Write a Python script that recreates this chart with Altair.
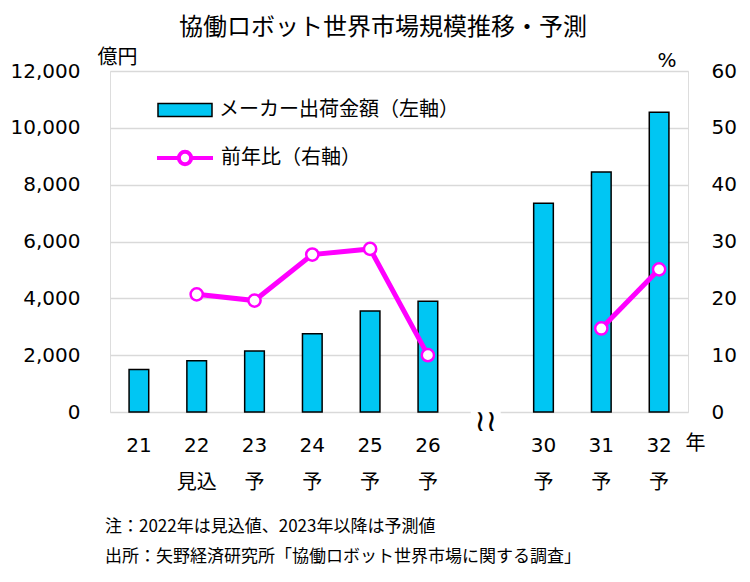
import altair as alt
import pandas as pd

# ---- data ----
categories = ["21", "22|見込", "23|予", "24|予", "25|予", "26|予", "gap", "30|予", "31|予", "32|予"]
shipments = [1500, 1800, 2150, 2750, 3550, 3900, None, 7350, 8450, 10550]   # 億円
yoy = [None, 20.7, 19.6, 27.7, 28.7, 10.0, None, None, 14.7, 25.1]          # %
segments = [None, "a", "a", "a", "a", "a", None, None, "b", "b"]
left_ticks = [0, 2000, 4000, 6000, 8000, 10000, 12000]
right_ticks = [0, 10, 20, 30, 40, 50, 60]

title_text = "協働ロボット世界市場規模推移・予測"
bar_name = "メーカー出荷金額（左軸）"
line_name = "前年比（右軸）"
notes = ["注：2022年は見込値、2023年以降は予測値",
         "出所：矢野経済研究所「協働ロボット世界市場に関する調査」"]
break_mark = ["≀≀"]

CYAN = "#00C6F3"
MAGENTA = "#FF00FF"
NUM_FONT = "DejaVu Sans, Noto Sans CJK JP"
CJK = "Noto Sans CJK JP"

df = pd.DataFrame({"cat": categories, "sales": shipments, "yoy": yoy, "seg": segments})
df["bar_series"] = bar_name
df["line_series"] = line_name
df_break = pd.DataFrame({"cat": ["gap"], "sym": break_mark})
df_notes = pd.DataFrame({"note": ["\n".join(notes)]})

x_enc = alt.X(
    "cat:N",
    sort=categories,
    scale=alt.Scale(domain=categories, paddingInner=0.66, paddingOuter=0.33),
    axis=alt.Axis(
        title="年", labelExpr="datum.label == 'gap' ? '' : split(datum.label, '|')",
        labelAngle=0, labelFont=NUM_FONT, labelFontSize=20, labelColor="black",
        labelLineHeight=37, labelPadding=23, labelBaseline="top",
        labelOverlap=False, labelBound=False,
        domain=False, ticks=False,
        titleX=575, titleY=31, titleAlign="left", titleBaseline="middle", titleAngle=0,
        titleFont=CJK, titleFontSize=20, titleFontWeight="normal", titleColor="black",
    ),
)

bars = alt.Chart(df).transform_filter("isValid(datum.sales)").mark_bar(
    stroke="black", strokeWidth=1.5
).encode(
    x=x_enc,
    y=alt.Y("sales:Q", scale=alt.Scale(domain=[0, 12000], nice=False),
            axis=alt.Axis(orient="left", values=left_ticks, format=",.0f",
                          grid=True, gridColor="#D9D9D9", gridWidth=1.5,
                          domain=False, ticks=False, labelPadding=30,
                          labelFont=NUM_FONT, labelFontSize=20, labelColor="black",
                          title="億円", titleAngle=0, titleX=-13, titleY=-14,
                          titleAlign="left", titleBaseline="middle",
                          titleFont=CJK, titleFontSize=20, titleFontWeight="normal",
                          titleColor="black")),
    color=alt.Color("bar_series:N", scale=alt.Scale(range=[CYAN]),
                    legend=alt.Legend(title=None, orient="none", legendX=47, legendY=11,
                                      symbolType="M-1,-0.24H1V0.24H-1Z", symbolSize=2916,
                                      symbolStrokeColor="black", symbolStrokeWidth=1.5,
                                      labelFont=CJK, labelFontSize=20, labelColor="black",
                                      labelOffset=6, labelLimit=400, padding=0)),
)

break_rect = alt.Chart(df_break).mark_bar(color="white", size=30).encode(
    x=alt.X("cat:N", sort=categories),
    y=alt.value(336), y2=alt.value(346),
)
break_text = alt.Chart(df_break).mark_text(
    font="DejaVu Sans", fontSize=30, color="black", baseline="middle", dy=5
).encode(x=alt.X("cat:N", sort=categories), y=alt.value(346), text="sym:N")

right_axis = alt.Axis(orient="right", values=right_ticks, grid=False, domain=False, ticks=False,
                      labelPadding=23, labelFont=NUM_FONT, labelFontSize=20, labelColor="black",
                      title="%", titleAngle=0, titleX=-31, titleY=-11, titleAlign="left",
                      titleBaseline="middle", titleFont=NUM_FONT, titleFontSize=20,
                      titleFontWeight="normal", titleColor="black")
y_right = alt.Y("yoy:Q", scale=alt.Scale(domain=[0, 60], nice=False), axis=right_axis)

line_path = ("M-1,0H-0.22M0.22,0H1M-0.22,0A0.22,0.22 0 1,1 0.22,0"
             "A0.22,0.22 0 1,1 -0.22,0Z")
line = alt.Chart(df).transform_filter("isValid(datum.yoy)").mark_line(strokeWidth=5).encode(
    x=alt.X("cat:N", sort=categories),
    y=y_right,
    detail="seg:N",
    color=alt.Color("line_series:N", scale=alt.Scale(range=[MAGENTA]),
                    legend=alt.Legend(title=None, orient="none", legendX=45, legendY=57,
                                      symbolType=line_path, symbolSize=3136,
                                      symbolStrokeWidth=4, symbolFillColor="white",
                                      labelFont=CJK, labelFontSize=20, labelColor="black",
                                      labelOffset=6, labelLimit=400, padding=0)),
)
points = alt.Chart(df).transform_filter("isValid(datum.yoy)").mark_point(
    shape="circle", filled=True, fill="white", stroke=MAGENTA, strokeWidth=2.5,
    size=150, opacity=1
).encode(x=alt.X("cat:N", sort=categories), y=y_right)

line_layer = alt.layer(line, points)

notes_text = alt.Chart(df_notes).mark_text(
    font=CJK, fontSize=17, color="black", align="left", baseline="top",
    lineBreak="\n", lineHeight=30
).encode(x=alt.value(-5), y=alt.value(448), text="note:N")

chart = alt.layer(
    bars, break_rect, break_text, line_layer, notes_text
).resolve_scale(
    y="independent", color="independent"
).properties(
    width=578, height=341,
    title=alt.TitleParams(title_text, font=CJK, fontSize=24, fontWeight="normal",
                          color="black", anchor="middle", frame="group", dx=-16, offset=7),
    autosize=alt.AutoSizeParams(type="none"),
    padding={"left": 102, "top": 63, "right": 54, "bottom": 160},
).configure_view(
    stroke="#A0A0A0", strokeWidth=1.5
).configure(
    background="white"
)

chart.save("out.html", embed_options={"renderer": "svg", "actions": False})
